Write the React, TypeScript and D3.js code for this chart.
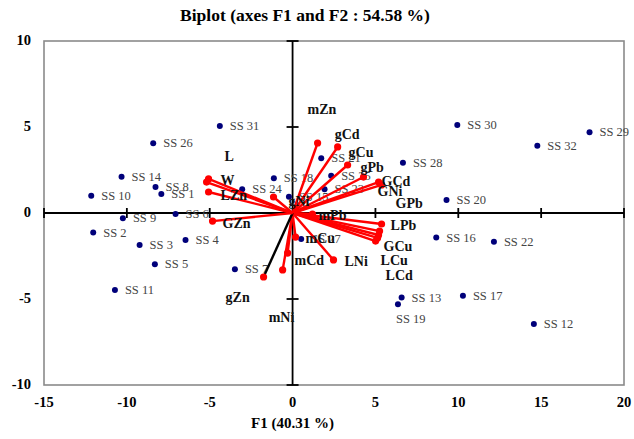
import React from "react";
import * as d3 from "d3";

// observations (F1, F2 scores)
const obsNames = [
  "SS 1", "SS 2", "SS 3", "SS 4", "SS 5", "SS 6", "SS 7", "SS 8", "SS 9", "SS 10",
  "SS 11", "SS 12", "SS 13", "SS 14", "SS 15", "SS 16", "SS 17", "SS 18", "SS 19", "SS 20",
  "SS 21", "SS 22", "SS 23", "SS 24", "SS 25", "SS 26", "SS 27", "SS 28", "SS 29", "SS 30",
  "SS 31", "SS 32",
];
const obsF1 = [
  -7.92, -12.03, -9.23, -6.46, -8.31, -7.06, -3.48, -8.27, -10.24, -12.15,
  -10.72, 14.56, 6.58, -10.32, -0.22, 8.67, 10.28, -1.13, 6.36, 9.29,
  1.73, 12.15, 1.93, -3.04, 2.33, -8.41, 0.52, 6.66, 17.92, 9.94,
  -4.39, 14.77,
];
const obsF2 = [
  1.1, -1.14, -1.86, -1.57, -2.98, -0.06, -3.27, 1.51, -0.31, 1.01,
  -4.48, -6.45, -4.92, 2.11, 0.95, -1.43, -4.81, 2.02, -5.31, 0.76,
  3.18, -1.67, 1.38, 1.38, 2.17, 4.05, -1.51, 2.92, 4.69, 5.12,
  5.06, 3.91,
];

// variables (loadings, scaled)
const varNames = [
  "mZn", "gCd", "gCu", "gPb", "GCd", "GNi", "mPb", "LPb", "GPb", "GCu", "LCu",
  "LCd", "LNi", "mCu", "mCd", "mNi", "gZn", "gNi", "W", "L", "LZn", "GZn",
];
const varF1 = [
  1.51, 2.72, 3.32, 4.28, 5.19, 5.37, 1.2, 5.37, 5.25, 5.19, 5.13,
  5.01, 2.47, 0.18, -0.3, -0.6, -1.75, -1.15, -5.07, -5.19, -5.07, -4.83,
];
const varF2 = [
  4.07, 3.84, 2.79, 2.09, 1.8, 1.63, -0.06, -0.64, -1.05, -1.28, -1.45,
  -1.63, -2.73, -1.4, -2.33, -3.31, -3.72, 0.93, 1.98, 1.8, 1.22, -0.47,
];

const xTicks = [-15, -10, -5, 0, 5, 10, 15, 20];
const yTicks = [-10, -5, 0, 5, 10];

// label placement tweaks (px)
const varLabelOffset: Record<string, [number, number]> = {
  mZn: [-10, -33], gCd: [-3, -12], gCu: [1, -13], gPb: [-3, -10], GCd: [3, -1],
  GNi: [-4, 7], mPb: [6, 1], LPb: [9, 1], GPb: [16, -28], GCu: [5, 11],
  LCu: [3, 23], LCd: [10, 34], LNi: [11, 2], mCu: [10, 1], mCd: [7, 7],
  mNi: [-14, 48], gZn: [-38, 21], gNi: [15, 4], W: [12, 2], L: [18, -26],
  LZn: [12, 3], GZn: [10, 2],
};
const obsLabelOffset: Record<string, [number, number]> = {
  "SS 19": [-2, 15],
};

const W = 634;
const H = 439;
const margin = { top: 41, right: 10, bottom: 54, left: 44 };
const serif = "'Liberation Serif', 'Times New Roman', serif";

const App = () => {
  const x = d3.scaleLinear().domain([-15, 20]).range([margin.left, W - margin.right]);
  const y = d3.scaleLinear().domain([-10, 10]).range([H - margin.bottom, margin.top]);
  const x0 = x(0);
  const y0 = y(0);

  const vars = varNames.map((n, i) => ({ name: n, f1: varF1[i], f2: varF2[i] }));
  const obs = obsNames.map((n, i) => ({ name: n, f1: obsF1[i], f2: obsF2[i] }));

  return (
    <svg
      width={W}
      height={H}
      style={{ position: "absolute", left: 0, top: 0, background: "#fff" }}
      fontFamily={serif}
    >
      <text x={305} y={21} textAnchor="middle" fontSize={17.5} fontWeight="bold">
        Biplot (axes F1 and F2 : 54.58 %)
      </text>

      {/* frame */}
      <rect
        x={margin.left}
        y={margin.top}
        width={W - margin.left - margin.right}
        height={H - margin.bottom - margin.top}
        fill="none"
        stroke="#8a8a8a"
        strokeWidth={1.6}
      />

      {/* tick labels */}
      {xTicks.map((t) => (
        <text key={"xt" + t} x={x(t)} y={H - margin.bottom + 22} textAnchor="middle" fontSize={14.5} fontWeight="bold">
          {t}
        </text>
      ))}
      {yTicks.map((t) => (
        <text key={"yt" + t} x={margin.left - 13} y={y(t) + 4} textAnchor="end" fontSize={14.5} fontWeight="bold">
          {t}
        </text>
      ))}
      <text x={x0} y={H - 11} textAnchor="middle" fontSize={15} fontWeight="bold">
        F1 (40.31 %)
      </text>

      {/* axes through origin */}
      <line x1={margin.left} x2={W - margin.right} y1={y0} y2={y0} stroke="#000" strokeWidth={1.8} />
      <line x1={x0} x2={x0} y1={margin.top} y2={H - margin.bottom} stroke="#000" strokeWidth={1.8} />
      {xTicks.filter((t) => t !== 0).map((t) => (
        <line key={"xk" + t} x1={x(t)} x2={x(t)} y1={y0 - 5} y2={y0 + 5} stroke="#000" strokeWidth={1.8} />
      ))}
      {yTicks.filter((t) => t !== 0).map((t) => (
        <line key={"yk" + t} x1={x0 - 6} x2={x0 + 6} y1={y(t)} y2={y(t)} stroke="#000" strokeWidth={1.8} />
      ))}

      {/* observations */}
      {obs.map((d) => {
        const off = obsLabelOffset[d.name] || [10, 0];
        return (
          <g key={d.name}>
            <circle cx={x(d.f1)} cy={y(d.f2)} r={3} fill="#00007a" />
            <text
              x={x(d.f1) + off[0]}
              y={y(d.f2) + off[1] + 4}
              fontSize={12.5}
              fill="#444"
            >
              {d.name}
            </text>
          </g>
        );
      })}

      {/* variable vectors */}
      {vars.map((d) => (
        <g key={d.name}>
          <line
            x1={x0}
            y1={y0}
            x2={x(d.f1)}
            y2={y(d.f2)}
            stroke={d.name === "gZn" ? "#000" : "#ff0000"}
            strokeWidth={2.4}
          />
          <circle cx={x(d.f1)} cy={y(d.f2)} r={3.6} fill="#ff0000" />
        </g>
      ))}
      {vars.map((d) => {
        const off = varLabelOffset[d.name] || [8, 0];
        return (
          <text
            key={"l" + d.name}
            x={x(d.f1) + off[0]}
            y={y(d.f2) + off[1] + 4.5}
            fontSize={14}
            fontWeight="bold"
            fill="#111"
          >
            {d.name}
          </text>
        );
      })}
    </svg>
  );
};

export default App;
